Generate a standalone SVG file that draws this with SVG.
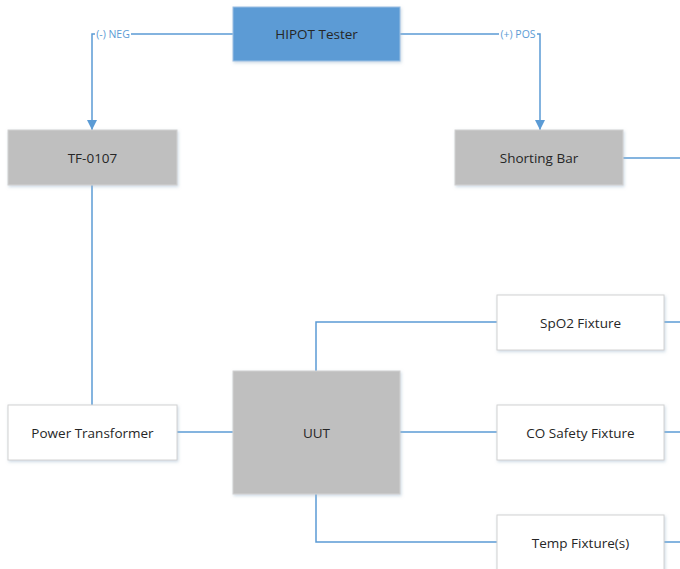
<svg xmlns="http://www.w3.org/2000/svg" width="680" height="569" viewBox="0 0 680 569">
<defs>
<marker id="arr" markerWidth="10" markerHeight="10" refX="10" refY="5" orient="auto" markerUnits="userSpaceOnUse" viewBox="0 0 10 10">
<path d="M0,0 L10,5 L0,10 Z" fill="#5B9BD5"/>
</marker>
<filter id="sh" x="-10%" y="-10%" width="130%" height="130%">
<feDropShadow dx="1" dy="1.5" stdDeviation="1.5" flood-color="#9fb6cc" flood-opacity="0.5"/>
</filter>
</defs>
<style>
.box{stroke:#d2d2d2;stroke-width:1;filter:url(#sh)}
.grey{fill:#BFBFBF}
.white{fill:#ffffff}
.blue{fill:#5B9BD5;stroke:#9dc0e3}
.t{font-family:"Open Sans","Liberation Sans",sans-serif;font-size:13.5px;fill:#262626;text-anchor:middle;dominant-baseline:central}
.lbl{font-family:"Open Sans","Liberation Sans",sans-serif;font-size:10.5px;fill:#5B9BD5;text-anchor:middle;dominant-baseline:central}
.c{fill:none;stroke:#5B9BD5;stroke-width:1.5}
</style>
<rect width="680" height="569" fill="#ffffff"/>
<g id="connectors">
<path class="c" d="M233,34 H92 V130" marker-end="url(#arr)"/>
<path class="c" d="M400,34 H540 V130" marker-end="url(#arr)"/>
<path class="c" d="M623,158 H680"/>
<path class="c" d="M92,185 V405"/>
<path class="c" d="M177,432 H233"/>
<path class="c" d="M316,371 V322 H497"/>
<path class="c" d="M400,432 H497"/>
<path class="c" d="M316,494 V542 H497"/>
<path class="c" d="M664,322 H680"/>
<path class="c" d="M664,432 H680"/>
<path class="c" d="M664,542 H680"/>
<rect x="95" y="27" width="36" height="14" fill="#ffffff"/>
<text class="lbl" x="113" y="34">(-) NEG</text>
<rect x="499" y="27" width="38" height="14" fill="#ffffff"/>
<text class="lbl" x="518" y="34">(+) POS</text>
</g>
<g id="hipot"><rect class="box blue" x="233" y="7" width="167" height="54"/><text class="t" x="316.5" y="34">HIPOT Tester</text></g>
<g id="tf0107"><rect class="box grey" x="8" y="130" width="169" height="55"/><text class="t" x="92.5" y="157.5">TF-0107</text></g>
<g id="shorting"><rect class="box grey" x="455" y="130" width="168" height="55"/><text class="t" x="539" y="157.5">Shorting Bar</text></g>
<g id="spo2"><rect class="box white" x="497" y="295" width="167" height="55"/><text class="t" x="580.5" y="322.5">SpO2 Fixture</text></g>
<g id="power"><rect class="box white" x="8" y="405" width="169" height="55"/><text class="t" x="92.5" y="432.5">Power Transformer</text></g>
<g id="uut"><rect class="box grey" x="233" y="371" width="167" height="123"/><text class="t" x="316.5" y="432.5">UUT</text></g>
<g id="co"><rect class="box white" x="497" y="405" width="167" height="55"/><text class="t" x="580.5" y="432.5">CO Safety Fixture</text></g>
<g id="temp"><rect class="box white" x="497" y="515" width="167" height="60"/><text class="t" x="580.5" y="542.5">Temp Fixture(s)</text></g>
</svg>
